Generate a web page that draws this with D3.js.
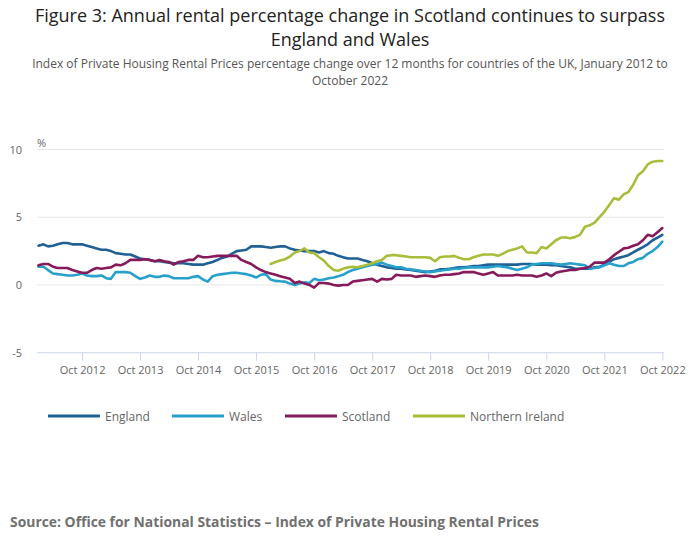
<!DOCTYPE html>
<html>
<head>
<meta charset="utf-8">
<script src="https://cdn.jsdelivr.net/npm/d3@7"></script>
<style>
  body { margin: 0; background: #fff; }
  svg { display: block; font-family: "Open Sans", sans-serif; }
</style>
</head>
<body>
<svg id="chart" width="700" height="549"></svg>
<script>
// ---- Data (monthly, Jan 2012 .. Oct 2022) ----
const startYear = 2012, startMonth = 0, nMonths = 130;
const seriesNames = ["England", "Wales", "Scotland", "Northern Ireland"];
const seriesColors = ["#206095", "#27a0cc", "#871a5b", "#a8bd3a"];

const england = [2.9,3.0,2.85,2.9,3.0,3.1,3.1,3.0,3.0,3.0,2.9,2.8,2.7,2.6,2.6,2.5,2.35,2.3,2.25,2.25,
  2.1,1.95,1.9,1.85,1.75,1.75,1.7,1.65,1.6,1.6,1.6,1.55,1.5,1.5,1.5,1.6,1.7,1.85,2.0,2.1,
  2.3,2.5,2.55,2.6,2.85,2.85,2.85,2.8,2.75,2.8,2.85,2.85,2.7,2.6,2.55,2.5,2.5,2.5,2.4,2.5,
  2.35,2.3,2.15,2.05,1.95,1.95,1.95,1.85,1.75,1.6,1.5,1.4,1.3,1.25,1.2,1.2,1.15,1.1,1.05,1.0,
  0.95,1.0,1.05,1.15,1.15,1.2,1.25,1.3,1.3,1.35,1.4,1.4,1.45,1.5,1.5,1.5,1.5,1.5,1.5,1.5,
  1.55,1.55,1.55,1.5,1.5,1.5,1.45,1.45,1.4,1.35,1.3,1.2,1.2,1.2,1.2,1.3,1.35,1.5,1.7,1.9,
  2.0,2.1,2.2,2.4,2.6,2.8,3.0,3.3,3.5,3.7];

const wales = [1.35,1.35,1.1,0.85,0.8,0.75,0.7,0.7,0.75,0.85,0.7,0.65,0.65,0.7,0.5,0.45,0.95,0.95,0.95,0.9,
  0.65,0.45,0.55,0.7,0.6,0.6,0.7,0.65,0.5,0.5,0.5,0.5,0.6,0.65,0.4,0.25,0.65,0.75,0.8,0.85,
  0.9,0.9,0.85,0.8,0.7,0.55,0.75,0.8,0.4,0.3,0.27,0.25,0.1,0.0,0.1,0.2,0.15,0.45,0.35,0.4,
  0.5,0.55,0.65,0.75,0.95,1.1,1.2,1.3,1.4,1.5,1.55,1.65,1.5,1.4,1.3,1.3,1.2,1.15,1.1,1.05,
  1.0,0.95,1.0,1.05,1.1,1.15,1.2,1.2,1.25,1.3,1.3,1.3,1.3,1.3,1.35,1.4,1.35,1.3,1.2,1.1,
  1.2,1.3,1.5,1.55,1.6,1.6,1.6,1.55,1.5,1.55,1.6,1.55,1.5,1.45,1.2,1.25,1.3,1.45,1.6,1.5,
  1.4,1.4,1.6,1.7,1.9,2.0,2.3,2.5,2.8,3.2];

const scotland = [1.45,1.55,1.55,1.35,1.25,1.25,1.25,1.1,1.0,0.9,0.9,1.1,1.25,1.2,1.25,1.3,1.5,1.45,1.6,1.85,
  1.85,1.85,1.9,1.85,1.75,1.85,1.75,1.7,1.5,1.7,1.75,1.85,1.85,2.15,2.05,2.05,2.1,2.15,2.15,2.15,
  2.15,2.15,1.85,1.7,1.55,1.3,1.1,0.95,0.85,0.75,0.65,0.55,0.45,0.15,0.25,0.1,0.0,-0.2,0.15,0.15,
  0.1,0.0,-0.05,0.0,0.0,0.25,0.3,0.35,0.4,0.45,0.25,0.45,0.4,0.45,0.75,0.7,0.7,0.7,0.6,0.65,
  0.7,0.65,0.6,0.7,0.75,0.75,0.8,0.85,0.95,0.95,0.95,0.85,0.75,0.85,0.95,0.7,0.7,0.7,0.7,0.75,
  0.7,0.7,0.7,0.6,0.7,0.85,0.65,0.9,1.0,1.05,1.1,1.1,1.2,1.25,1.35,1.65,1.65,1.65,1.9,2.2,
  2.45,2.7,2.75,2.9,3.0,3.3,3.7,3.6,3.9,4.2];

const northernIreland = [null,null,null,null,null,null,null,null,null,null,null,null,null,null,null,null,null,null,null,null,
  null,null,null,null,null,null,null,null,null,null,null,null,null,null,null,null,null,null,null,null,
  null,null,null,null,null,null,null,null,1.55,1.7,1.8,1.9,2.1,2.4,2.5,2.7,2.4,2.35,2.05,1.8,
  1.4,1.1,1.05,1.2,1.3,1.35,1.3,1.4,1.5,1.6,1.75,1.85,2.15,2.2,2.2,2.15,2.1,2.05,2.05,2.05,
  2.05,2.0,1.75,2.05,2.1,2.1,2.15,2.0,1.9,1.9,2.05,2.15,2.25,2.25,2.25,2.15,2.3,2.5,2.6,2.7,
  2.85,2.4,2.4,2.35,2.8,2.7,3.0,3.3,3.5,3.5,3.45,3.55,3.7,4.3,4.4,4.6,5.0,5.4,5.9,6.4,
  6.3,6.7,6.85,7.4,8.1,8.4,8.9,9.1,9.15,9.15];

const yTicks = [-5, 0, 5, 10];
const xTickYears = [2012,2013,2014,2015,2016,2017,2018,2019,2020,2021,2022];

const titleLines = ["Figure 3: Annual rental percentage change in Scotland continues to surpass", "England and Wales"];
const subtitleLines = ["Index of Private Housing Rental Prices percentage change over 12 months for countries of the UK, January 2012 to", "October 2022"];
const sourceText = "Source: Office for National Statistics \u2013 Index of Private Housing Rental Prices";

// ---- Build ----
const allSeries = [england, wales, scotland, northernIreland];
const dates = d3.range(nMonths).map(i => new Date(startYear, startMonth + i, 1));

const svg = d3.select("#chart");

const x = d3.scaleTime()
  .domain([dates[0], dates[nMonths - 1]])
  .range([38.5, 662.3]);
const y = d3.scaleLinear().domain([-5, 10]).range([352.7, 149.5]);

const plotLeft = 37, plotRight = 664;

// Title
svg.append("g").selectAll("text").data(titleLines).join("text")
  .attr("x", 350).attr("y", (d, i) => 21.5 + i * 24.7)
  .attr("text-anchor", "middle")
  .attr("font-size", 18).attr("fill", "#222")
  .text(d => d);

svg.append("g").selectAll("text").data(subtitleLines).join("text")
  .attr("x", 350).attr("y", (d, i) => 68 + i * 16.5)
  .attr("text-anchor", "middle")
  .attr("font-size", 12).attr("fill", "#555")
  .text(d => d);

// Gridlines
svg.append("g").selectAll("line").data(yTicks.filter(t => t !== -5)).join("line")
  .attr("x1", plotLeft).attr("x2", plotRight)
  .attr("y1", d => y(d)).attr("y2", d => y(d))
  .attr("stroke", "#e6e6e6").attr("stroke-width", 1);

// Y labels
svg.append("g").selectAll("text").data(yTicks).join("text")
  .attr("x", 22).attr("y", d => y(d) + 4)
  .attr("text-anchor", "end")
  .attr("font-size", 11).attr("fill", "#666")
  .text(d => d);

svg.append("text").attr("x", 37).attr("y", 147)
  .attr("font-size", 11).attr("fill", "#666").text("%");

// X axis
const xAxis = d3.axisBottom(x)
  .tickValues(xTickYears.map(yr => new Date(yr, 9, 1)))
  .tickFormat(d3.timeFormat("Oct %Y"))
  .tickSize(8)
  .tickSizeOuter(0);
const gx = svg.append("g").attr("transform", `translate(0,${y(-5)})`).call(xAxis);
gx.select(".domain").remove();
gx.append("line").attr("x1", plotLeft).attr("x2", plotRight)
  .attr("stroke", "#ccd6eb").attr("stroke-width", 1);
gx.selectAll(".tick line").attr("stroke", "#ccd6eb");
gx.selectAll(".tick text")
  .attr("font-family", "Open Sans, sans-serif")
  .attr("font-size", 11).attr("fill", "#666").attr("dy", "0.9em");

// Lines
const line = d3.line()
  .defined(d => d.v !== null)
  .x(d => x(d.date)).y(d => y(d.v));

svg.append("g").selectAll("path").data(allSeries).join("path")
  .attr("d", s => line(s.map((v, i) => ({ date: dates[i], v }))))
  .attr("fill", "none")
  .attr("stroke", (s, i) => seriesColors[i])
  .attr("stroke-width", 2.6)
  .attr("stroke-linejoin", "round")
  .attr("stroke-linecap", "round");

// Legend
const legendX = [48, 172, 285, 413];
const lg = svg.append("g").selectAll("g").data(seriesNames).join("g")
  .attr("transform", (d, i) => `translate(${legendX[i]},416)`);
lg.append("line").attr("x1", 0).attr("x2", 52).attr("y1", 0).attr("y2", 0)
  .attr("stroke", (d, i) => seriesColors[i]).attr("stroke-width", 3);
lg.append("text").attr("x", 57).attr("y", 4.5)
  .attr("font-size", 12).attr("fill", "#666").text(d => d);

// Source
svg.append("text").attr("x", 10).attr("y", 527)
  .attr("font-size", 13.9).attr("font-weight", "bold").attr("fill", "#707070")
  .text(sourceText);
</script>
</body>
</html>
